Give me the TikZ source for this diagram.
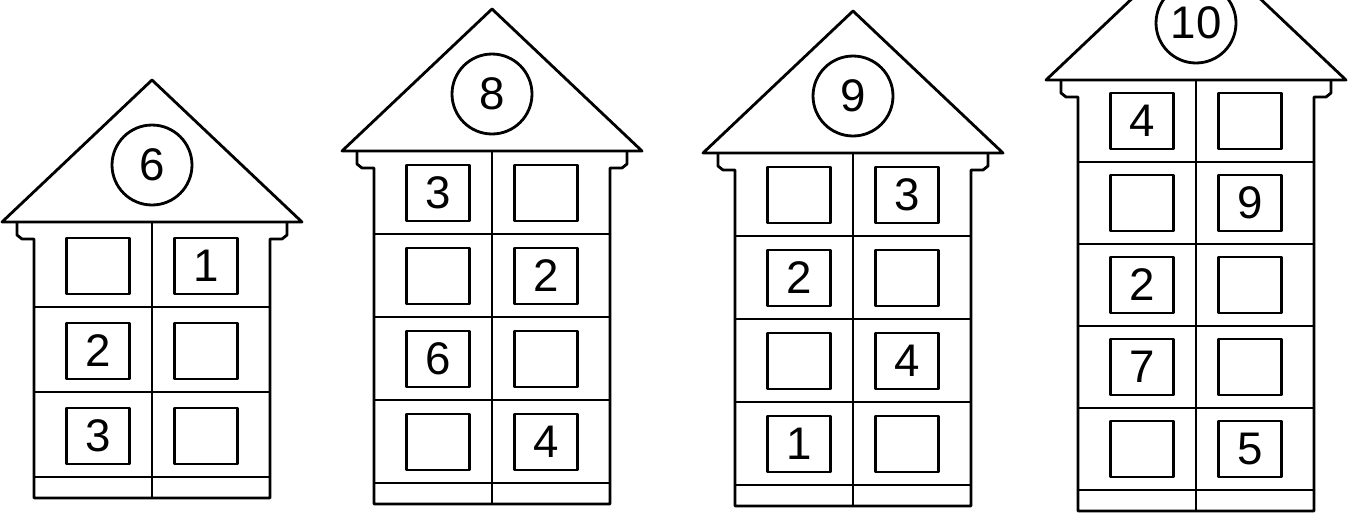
\documentclass[tikz,border=0pt]{standalone}
\usepackage{fontspec}
\setmainfont{Liberation Sans}
\newcommand{\chiffre}{\fontsize{26}{28}\selectfont}

\begin{document}
\begin{tikzpicture}[x=0.02cm,y=-0.02cm,line width=1.6pt,line join=round,
  fenetre/.style={rectangle,draw,minimum width=1.26cm,minimum height=1.12cm,
                  inner sep=0pt,font=\chiffre},
  rond/.style={circle,draw,minimum size=1.6cm,inner sep=0pt,font=\chiffre}]
  \useasboundingbox (0,0) rectangle (1354,512);
  \clip (0,0) rectangle (1354,512);

  \foreach \cx/\by/\h/\num/\fen in {152/222/85/6/{{}/1,2/{},3/{}},
      492/151/83/8/{3/{},{}/2,6/{},{}/4},
      853/153/83/9/{{}/3,2/{},{}/4,1/{}},
      1196/80/82/10/{4/{},{}/9,2/{},7/{},{}/5}} {
    \begin{scope}[shift={(\cx,\by)}]
      % toit
      \draw (-150,0) -- (0,-142) -- (150,0) -- cycle;
      \node[rond] (rond\num) at (0,-57) {\num};
      % etages
      \foreach \g/\d [count=\k] in \fen {
        \node[fenetre] (f\num-\k-g) at (-54,\h*\k-41) {\g};
        \node[fenetre] (f\num-\k-d) at (54,\h*\k-41) {\d};
        \draw (-118,\h*\k) -- (118,\h*\k);
        \xdef\nbe{\k}
      }
      % facade
      \draw (-135,0) -- (-135,13) -- (-130,17) -- (-118,17) -- (-118,\h*\nbe+21)
        -- (118,\h*\nbe+21) -- (118,17) -- (130,17) -- (135,13) -- (135,0);
      \draw (0,0) -- (0,\h*\nbe+21);
    \end{scope}
  }
\end{tikzpicture}
\end{document}
